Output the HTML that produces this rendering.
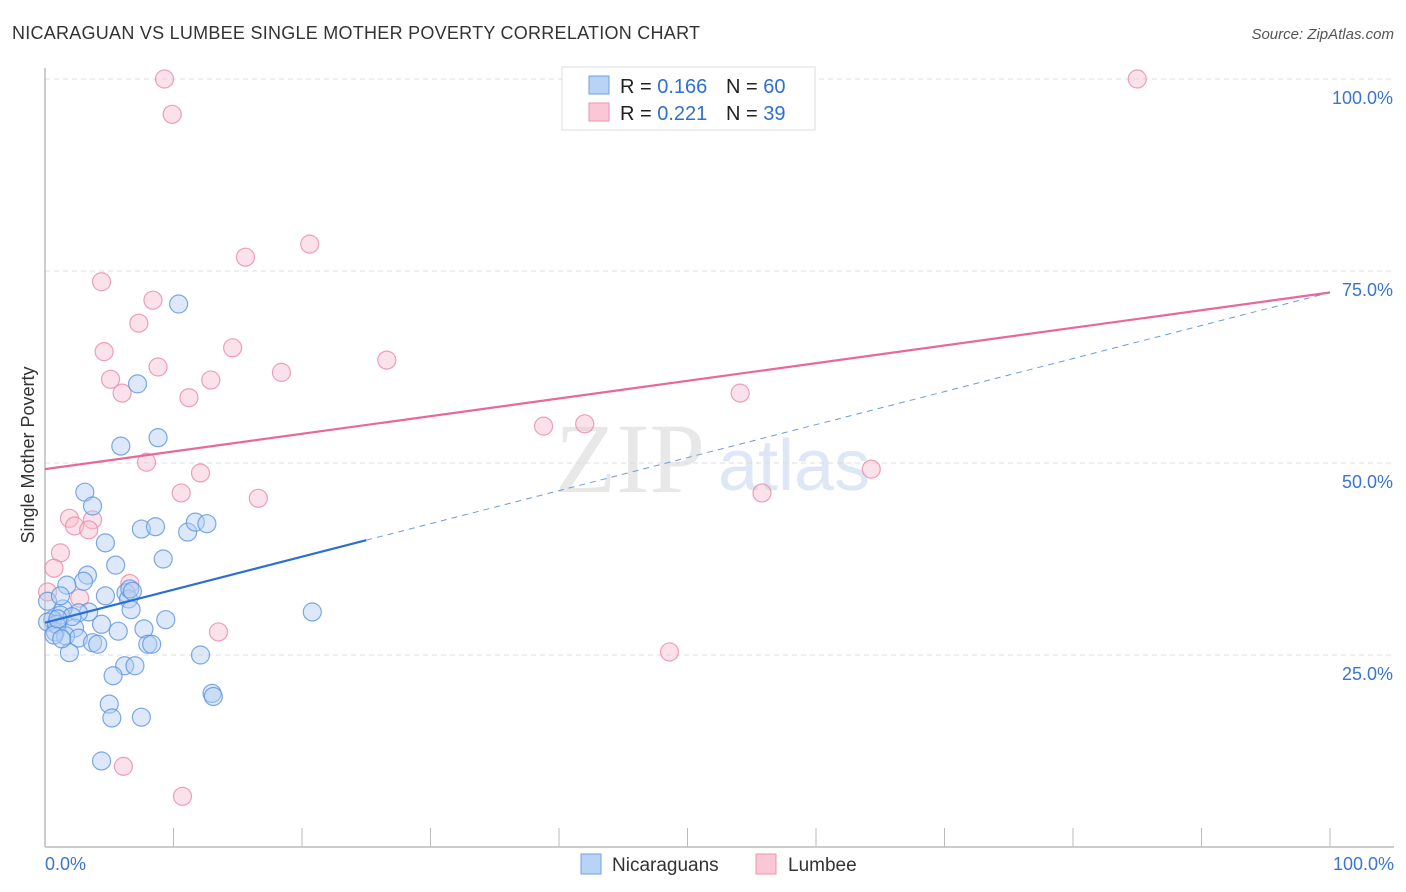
<!DOCTYPE html>
<html><head><meta charset="utf-8"><style>
body{margin:0;background:#fff;font-family:"Liberation Sans",sans-serif;}
svg{display:block}
</style></head><body>
<svg id="c" width="1406" height="892" xmlns="http://www.w3.org/2000/svg">
<text x="12" y="39" font-size="18" fill="#333" textLength="688">NICARAGUAN VS LUMBEE SINGLE MOTHER POVERTY CORRELATION CHART</text>
<text x="1394" y="39" font-size="15" fill="#555" font-style="italic" text-anchor="end">Source: ZipAtlas.com</text>
<text x="555" y="492" font-size="100" fill="#e8e8e8" font-family="Liberation Serif">ZIP</text>
<text x="718" y="490" font-size="72" fill="#dde7f5">atlas</text>
<g id="grid"></g>
<g id="axes"></g>
<g id="pts"></g>
<g id="lines"></g>
<text transform="translate(34,455) rotate(-90)" font-size="18" fill="#333" text-anchor="middle">Single Mother Poverty</text>
<g>
<rect x="562" y="67" width="253" height="63" fill="#fff" stroke="#ddd"/>
<rect x="589" y="76" width="20" height="18" fill="#b8d3f5" stroke="#6fa0e0"/>
<rect x="589" y="103" width="20" height="18" fill="#f9c7d6" stroke="#ee93ae"/>
<text x="620" y="93" font-size="20" fill="#222">R = <tspan fill="#2f6fd0">0.166</tspan></text>
<text x="726" y="93" font-size="20" fill="#222">N = <tspan fill="#2f6fd0">60</tspan></text>
<text x="620" y="120" font-size="20" fill="#222">R = <tspan fill="#2f6fd0">0.221</tspan></text>
<text x="726" y="120" font-size="20" fill="#222">N =  <tspan fill="#2f6fd0">39</tspan></text>
</g>
<g>
<rect x="581" y="854" width="20" height="20" fill="#b8d3f5" stroke="#6fa0e0"/>
<text x="612" y="871" font-size="19" fill="#333">Nicaraguans</text>
<rect x="756" y="854" width="20" height="20" fill="#f9c7d6" stroke="#ee93ae"/>
<text x="788" y="871" font-size="19" fill="#333">Lumbee</text>
</g>
</svg>
<script>
const yTicks=[25,50,75,100];
const yTickLabels=["25.0%","50.0%","75.0%","100.0%"];
const xTickLabels=["0.0%","100.0%"];
const blueX=[10.4,7.2,5.9,8.8,3.1,3.7,7.5,8.6,11.1,11.7,12.6,4.7,9.2,5.5,3.3,3.0,1.7,4.7,6.3,6.5,6.7,6.6,6.8,3.4,2.6,1.4,1.2,0.6,0.2,0.8,0.9,2.3,1.6,2.6,4.4,5.7,7.7,9.4,3.7,4.1,8.0,8.3,1.9,12.1,20.8,6.2,7.0,5.3,5.0,5.2,7.5,4.4,13.0,13.1,0.7,0.2,1.2,2.1,1.3,1.0];
const blueY=[70.7,60.3,52.2,53.3,46.2,44.4,41.4,41.7,41.0,42.3,42.1,39.6,37.5,36.7,35.4,34.6,34.1,32.7,33.1,32.3,30.9,33.6,33.3,30.6,30.5,31.0,30.2,29.6,29.3,28.0,29.0,28.5,27.5,27.2,29.0,28.1,28.4,29.6,26.6,26.4,26.4,26.4,25.3,25.0,30.6,23.6,23.6,22.3,18.6,16.8,16.9,11.2,20.0,19.6,27.6,32.0,32.7,30.0,27.1,29.7];
const pinkX=[9.3,9.9,20.6,15.6,4.4,8.4,7.3,4.6,14.6,8.8,26.6,18.4,5.1,6.0,12.9,11.2,54.1,38.8,42.0,7.9,12.1,10.6,16.6,55.8,64.3,1.9,3.7,2.3,3.4,1.2,0.7,0.2,2.7,6.6,13.5,48.6,6.1,10.7,85.0];
const pinkY=[100,95.4,78.5,76.8,73.6,71.2,68.2,64.5,65.0,62.5,63.4,61.8,60.9,59.1,60.8,58.5,59.1,54.8,55.1,50.1,48.7,46.1,45.4,46.1,49.2,42.8,42.6,41.8,41.3,38.3,36.3,33.2,32.4,34.3,28.0,25.4,10.5,6.6,100];
const pinkTrend=[49.2,72.2];
const blueTrend=[29.2,72.2];
const blueSolidEnd=25;
const NS='http://www.w3.org/2000/svg';
const X0=45,X1=1330,Y0=847,Y100=79;
const sx=v=>X0+(X1-X0)*v/100, sy=v=>Y0-(Y0-Y100)*v/100;
function mk(t,a,p){const e=document.createElementNS(NS,t);for(const k in a)e.setAttribute(k,a[k]);p.appendChild(e);return e;}
const grid=document.getElementById('grid'),axes=document.getElementById('axes'),pts=document.getElementById('pts'),lines=document.getElementById('lines');
yTicks.forEach((v,i)=>{
 const l=mk('line',{x1:45,x2:1394,y1:sy(v),y2:sy(v),stroke:'#ddd','stroke-dasharray':'5,4'},grid);
 
 
 const t=mk('text',{x:1393,y:sy(v)+25,'font-size':18,fill:'#3a75d0','text-anchor':'end'},axes);
 t.textContent=yTickLabels[i];
 
 
});
const ya=mk('line',{x1:45,x2:45,y1:68,y2:847,stroke:'#bbb','stroke-width':1.5},axes);


const xa=mk('line',{x1:45,x2:1394,y1:847,y2:847,stroke:'#bbb','stroke-width':1.5},axes);


for(let i=1;i<=10;i++){const tk=mk('line',{x1:sx(i*10),x2:sx(i*10),y1:828,y2:847,stroke:'#bbb'},axes);
 
 }
[[0,'start',45],[100,'end',1394]].forEach((d,i)=>{const t=mk('text',{x:d[2],y:870,'font-size':18,fill:'#3a75d0','text-anchor':d[1]},axes);t.textContent=xTickLabels[i];
 
 });
function dots(xs,ys,fill,stroke,name){xs.forEach((x,i)=>{const c=mk('circle',{cx:sx(x),cy:sy(ys[i]),r:9,fill:fill,'fill-opacity':0.45,stroke:stroke,'stroke-opacity':0.8,'stroke-width':1.2},pts);
 
 });}
dots(pinkX,pinkY,'#f7bfd0','#e98aa8','lumbee-point');
dots(blueX,blueY,'#b3cff3','#5b93e0','nicaraguan-point');
const pl=mk('line',{x1:sx(0),y1:sy(pinkTrend[0]),x2:sx(100),y2:sy(pinkTrend[1]),stroke:'#e8689a','stroke-width':2.2},lines);


const by=x=>blueTrend[0]+(blueTrend[1]-blueTrend[0])*x/100;
const bs=mk('line',{x1:sx(0),y1:sy(by(0)),x2:sx(blueSolidEnd),y2:sy(by(blueSolidEnd)),stroke:'#2a6fd6','stroke-width':2.2},lines);


const bd=mk('line',{x1:sx(blueSolidEnd),y1:sy(by(blueSolidEnd)),x2:sx(100),y2:sy(by(100)),stroke:'#6a9be0','stroke-width':1,'stroke-dasharray':'6,5'},lines);


</script>
</body></html>
